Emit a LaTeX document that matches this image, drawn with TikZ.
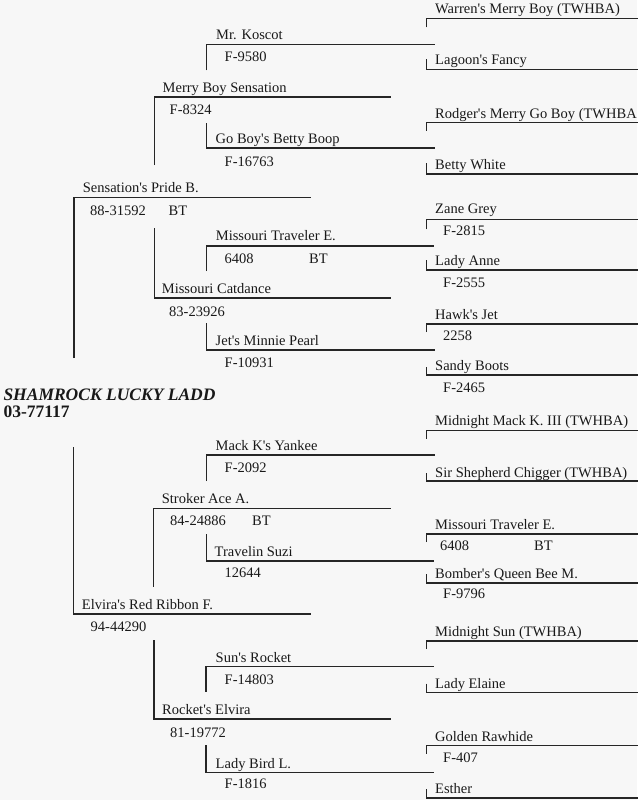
\documentclass[tikz,border=0pt]{standalone}
\usepackage{fontspec}
\setmainfont{Liberation Serif}
\newcommand\pedfont{\fontsize{14.5}{17}\selectfont}
\newcommand\rootfont{\fontsize{17.5}{20}\selectfont\bfseries}
\newcommand\ap{\textquotesingle}
\tikzset{
  pline/.style={line width=1.5pt, draw=black!85},
  horse/.style={anchor=base west, inner sep=0pt, text=black!90, font=\pedfont},
}
\begin{document}
\begin{tikzpicture}[x=1pt, y=-1pt]
\useasboundingbox[fill=black!3] (0,0) rectangle (637,800);

% subject
\node[horse, font=\rootfont\itshape] (ladd) at (3.3,400.7) {SHAMROCK LUCKY LADD};
\node[horse, font=\rootfont] (laddreg) at (3.3,417.5) {03-77117};

% sire and dam
\coordinate (spb) at (74,197.5);
\coordinate (erf) at (73.5,614);
\draw[pline] (spb) ++(0,160.5) -- (spb) -- ++(237,0);
\draw[pline] (erf) ++(0,-167) -- (erf) -- ++(237,0);
\node[horse] (spbn) at (82.7,192.5) {Sensation\ap s Pride B.};
\node[horse] (spbr) at (90,215) {88-31592};
\node[horse] (spbt) at (168.5,215) {BT};
\node[horse] (erfn) at (81.7,609.5) {Elvira\ap s Red Ribbon F.};
\node[horse] (erfr) at (90.5,631.5) {94-44290};

% grandparents
\coordinate (mbs) at (154.3,97);
\coordinate (mcd) at (154.3,298);
\coordinate (sac) at (153.7,508.5);
\coordinate (rel) at (154,719);
\draw[pline] (mbs) ++(0,68) -- (mbs) -- ++(236.5,0);
\draw[pline] (mcd) ++(0,-70) -- (mcd) -- ++(236.5,0);
\draw[pline] (sac) ++(0,78) -- (sac) -- ++(237.5,0);
\draw[pline] (rel) ++(0,-79) -- (rel) -- ++(237,0);
\node[horse] (mbsn) at (162.5,92.5) {Merry Boy Sensation};
\node[horse] (mbsr) at (169.5,114) {F-8324};
\node[horse] (mcdn) at (161.7,293.3) {Missouri Catdance};
\node[horse] (mcdr) at (169,316) {83-23926};
\node[horse] (sacn) at (161.7,503.5) {Stroker Ace A.};
\node[horse] (sacr) at (170,525.5) {84-24886};
\node[horse] (sact) at (252,525.5) {BT};
\node[horse] (reln) at (162,714.5) {Rocket\ap s Elvira};
\node[horse] (relr) at (170,737) {81-19772};

% great-grandparents
\coordinate (kos) at (206.7,44.3);
\coordinate (gbb) at (206.7,148);
\coordinate (mte) at (206.3,246);
\coordinate (jmp) at (206.5,350);
\coordinate (mky) at (206.5,455);
\coordinate (tsz) at (206.3,561);
\coordinate (srk) at (206,666.7);
\coordinate (lbl) at (206,772.3);
\draw[pline] (kos) ++(0,26) -- (kos) -- ++(228,0);
\draw[pline] (gbb) ++(0,-25) -- (gbb) -- ++(228,0);
\draw[pline] (mte) ++(0,25) -- (mte) -- ++(228,0);
\draw[pline] (jmp) ++(0,-27) -- (jmp) -- ++(228,0);
\draw[pline] (mky) ++(0,26) -- (mky) -- ++(228,0);
\draw[pline] (tsz) ++(0,-27) -- (tsz) -- ++(228,0);
\draw[pline] (srk) ++(0,25) -- (srk) -- ++(228,0);
\draw[pline] (lbl) ++(0,-27) -- (lbl) -- ++(228,0);
\node[horse] (kosn) at (216,40) {Mr. Koscot};
\node[horse] (kosr) at (224.5,61.5) {F-9580};
\node[horse] (gbbn) at (215.5,143.5) {Go Boy\ap s Betty Boop};
\node[horse] (gbbr) at (224.5,166.5) {F-16763};
\node[horse] (mten) at (215.7,240.5) {Missouri Traveler E.};
\node[horse] (mter) at (224.5,263.5) {6408};
\node[horse] (mtet) at (309,263.5) {BT};
\node[horse] (jmpn) at (215.5,345.5) {Jet\ap s Minnie Pearl};
\node[horse] (jmpr) at (224.5,367.5) {F-10931};
\node[horse] (mkyn) at (215.5,450.5) {Mack K\ap s Yankee};
\node[horse] (mkyr) at (224.5,472.5) {F-2092};
\node[horse] (tszn) at (214.5,556.5) {Travelin Suzi};
\node[horse] (tszr) at (224.5,577.5) {12644};
\node[horse] (srkn) at (215.5,662) {Sun\ap s Rocket};
\node[horse] (srkr) at (224.5,684) {F-14803};
\node[horse] (lbln) at (215.5,768) {Lady Bird L.};
\node[horse] (lblr) at (224.5,788.5) {F-1816};

% great-great-grandparents
\coordinate (wmb) at (426.5,18.3);
\coordinate (lgf) at (426.5,69.3);
\coordinate (rmg) at (426.5,122.7);
\coordinate (btw) at (426.5,174);
\coordinate (zgr) at (426.5,219.3);
\coordinate (lan) at (426.5,270);
\coordinate (hjt) at (426.5,324);
\coordinate (sbt) at (426.5,375);
\coordinate (mmk) at (426.5,430.5);
\coordinate (ssc) at (426.5,481);
\coordinate (mtf) at (426.5,534);
\coordinate (bqb) at (426.5,583);
\coordinate (msn) at (426.5,641);
\coordinate (lel) at (426.5,692.7);
\coordinate (grh) at (426.5,745.7);
\coordinate (est) at (426.5,798);
\draw[pline] (wmb) ++(0,9) -- (wmb) -- ++(214,0);
\draw[pline] (lgf) ++(0,-10) -- (lgf) -- ++(214,0);
\draw[pline] (rmg) ++(0,8) -- (rmg) -- ++(214,0);
\draw[pline] (btw) ++(0,-11) -- (btw) -- ++(214,0);
\draw[pline] (zgr) ++(0,10) -- (zgr) -- ++(214,0);
\draw[pline] (lan) ++(0,-10) -- (lan) -- ++(214,0);
\draw[pline] (hjt) ++(0,8) -- (hjt) -- ++(214,0);
\draw[pline] (sbt) ++(0,-8) -- (sbt) -- ++(214,0);
\draw[pline] (mmk) ++(0,8) -- (mmk) -- ++(214,0);
\draw[pline] (ssc) ++(0,-8) -- (ssc) -- ++(214,0);
\draw[pline] (mtf) ++(0,8) -- (mtf) -- ++(214,0);
\draw[pline] (bqb) ++(0,-9) -- (bqb) -- ++(214,0);
\draw[pline] (msn) ++(0,8) -- (msn) -- ++(214,0);
\draw[pline] (lel) ++(0,-9) -- (lel) -- ++(214,0);
\draw[pline] (grh) ++(0,8) -- (grh) -- ++(214,0);
\draw[pline] (est) ++(0,-9) -- (est) -- ++(214,0);
\node[horse] (wmbn) at (435,14) {Warren\ap s Merry Boy (TWHBA)};
\node[horse] (lgfn) at (435,64.5) {Lagoon\ap s Fancy};
\node[horse] (rmgn) at (435,118) {Rodger\ap s Merry Go Boy (TWHBA};
\node[horse] (btwn) at (435,169.5) {Betty White};
\node[horse] (zgrn) at (435,213.8) {Zane Grey};
\node[horse] (zgrr) at (443,235.5) {F-2815};
\node[horse] (lann) at (435,265) {Lady Anne};
\node[horse] (lanr) at (443,287.5) {F-2555};
\node[horse] (hjtn) at (435,319.5) {Hawk\ap s Jet};
\node[horse] (hjtr) at (443,340.5) {2258};
\node[horse] (sbtn) at (435,370.5) {Sandy Boots};
\node[horse] (sbtr) at (443,392.5) {F-2465};
\node[horse] (mmkn) at (435,425) {Midnight Mack K. III (TWHBA)};
\node[horse] (sscn) at (435,477) {Sir Shepherd Chigger (TWHBA)};
\node[horse] (mtfn) at (435,529.5) {Missouri Traveler E.};
\node[horse] (mtfr) at (440,550.5) {6408};
\node[horse] (mtft) at (534,550.5) {BT};
\node[horse] (bqbn) at (435,578) {Bomber\ap s Queen Bee M.};
\node[horse] (bqbr) at (443,598.5) {F-9796};
\node[horse] (msnn) at (435,636) {Midnight Sun (TWHBA)};
\node[horse] (leln) at (435,688) {Lady Elaine};
\node[horse] (grhn) at (435,741) {Golden Rawhide};
\node[horse] (grhr) at (443,762) {F-407};
\node[horse] (estn) at (435,793.5) {Esther};
\end{tikzpicture}
\end{document}
